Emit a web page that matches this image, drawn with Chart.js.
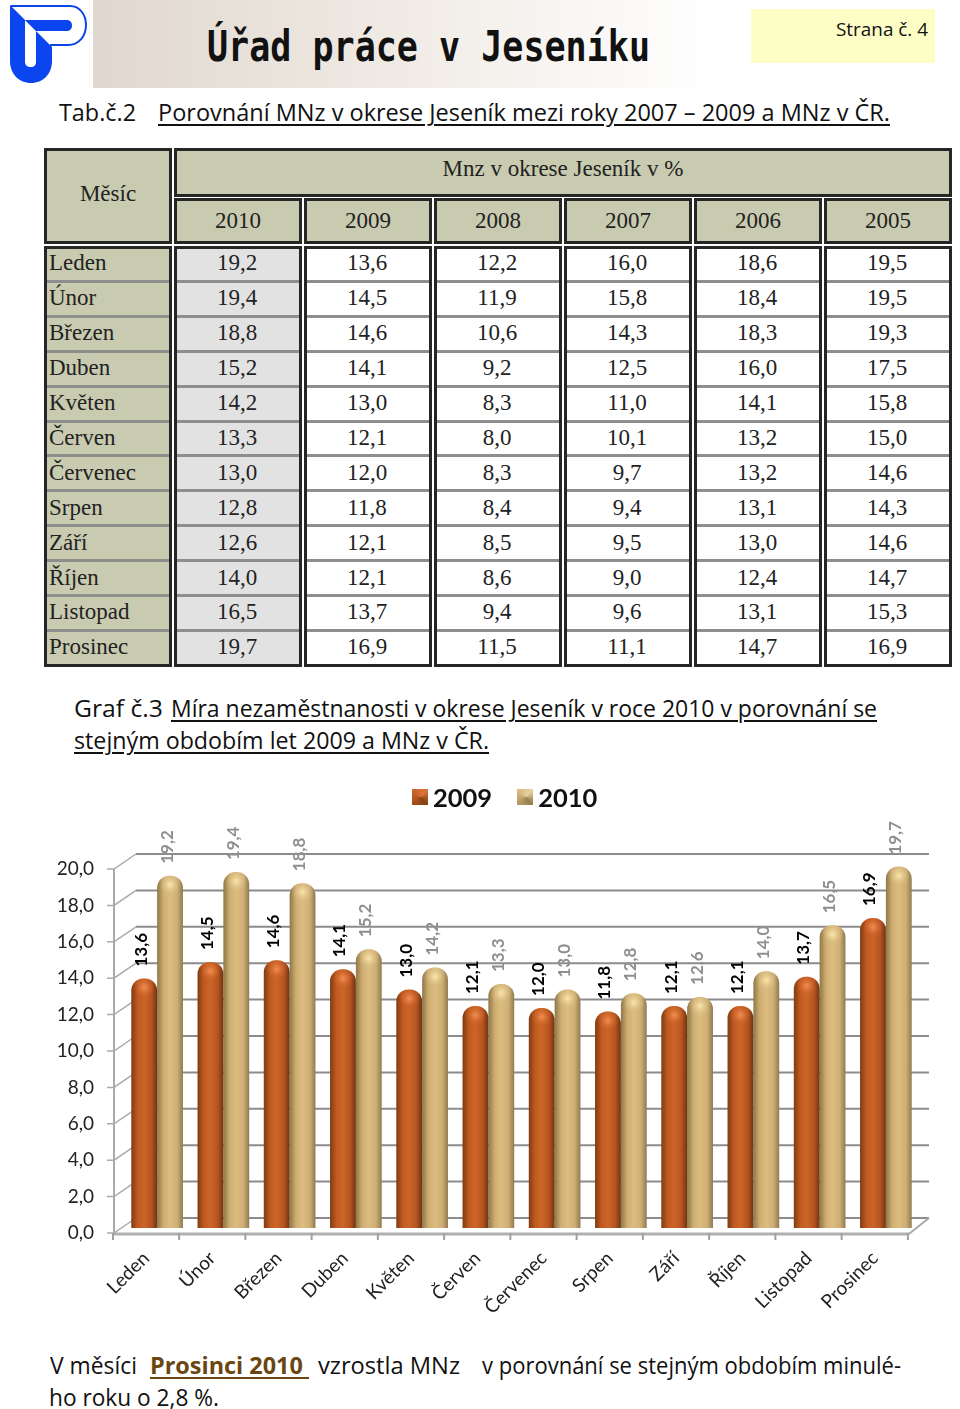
<!DOCTYPE html>
<html lang="cs">
<head>
<meta charset="UTF-8">
<title>Úřad práce v Jeseníku</title>
<script src="https://cdn.jsdelivr.net/npm/chart.js@4.4.4/dist/chart.umd.min.js"></script>
<style>
    html, body { margin: 0; padding: 0; background: #fff; }
    #page { position: relative; width: 960px; height: 1409px; overflow: hidden; font-family: "Open Sans", sans-serif; color: #111; }
    #page > * { position: absolute; }
    #band { left: 93px; top: 0; width: 620px; height: 88px; background: linear-gradient(90deg, #e0d8cf 0%, #efe9e3 45%, #fff 100%); }
    #pagebox { left: 751px; top: 9px; width: 184px; height: 54px; background: #fdfdc6; }
    .t { white-space: nowrap; transform-origin: left center; font-size: 23px; line-height: 30px; }
    .u { text-decoration: underline; text-underline-offset: 3px; }
    .cell { position: absolute; box-sizing: border-box; font-family: "Liberation Serif", serif; font-size: 23px; color: #222; display: flex; align-items: center; justify-content: center; }
    .block { position: absolute; box-sizing: border-box; border: 3px solid #262626; }
    .head { background: #c9cbb0; }
    .sep { position: absolute; height: 3px; background: #8e8e8e; }
    #legend { left: 412px; top: 779px; height: 36px; display: flex; align-items: center; font: bold 25.5px Lato, sans-serif; color: #111; }
    #legend i { display: inline-block; width: 16px; height: 16px; margin-right: 5px; }
    #legend span { margin-right: 25px; }
    #chartbox { left: 0; top: 780px; width: 960px; height: 555px; }
</style>
</head>
<body>
<div id="page">
    <div id="band"></div>
    <svg style="left:0;top:0" width="92" height="88" viewBox="0 0 92 88">
        <path d="M11 6H70C80 6 86 15 86 25C86 36 79 45 68 45H50" fill="#fff" stroke="#0b45e8" stroke-width="2"/>
        <path d="M10 5L52 47V61C52 74 43 83 31 83C19 83 10 74 10 61Z" fill="#0b45f0"/>
        <path d="M25 20L36 31V62C36 65 34 67 31 67C27 67 25 65 25 62Z" fill="#fff"/>
        <path d="M25 20H66C70 20 72 22 72 25.500C72 29 70 31 66 31H36Z" fill="#0b45f0"/>
    </svg>
    <div id="pagebox"></div>
    <div class="t fit" data-w="443" style="left:207px;top:22px;font:bold 42px/50px 'DejaVu Sans Mono',monospace">Úřad práce v Jeseníku</div>
    <div class="t fit" data-w="92" style="left:836px;top:14px;font-size:18px">Strana č. 4</div>
    <div class="t fit" data-w="77" style="left:59px;top:97px">Tab.č.2</div>
    <div class="t fit u" data-w="732" style="left:158px;top:97px">Porovnání MNz v okrese Jeseník mezi roky 2007 – 2009 a MNz v ČR.</div>

    <div id="table" style="left:0;top:0;width:960px;height:680px"></div>

    <div class="t fit" data-w="89" style="left:74px;top:693px">Graf č.3</div>
    <div class="t fit u" data-w="706" style="left:171px;top:693px">Míra nezaměstnanosti v okrese Jeseník v roce 2010 v porovnání se</div>
    <div class="t fit u" data-w="415" style="left:74px;top:725px">stejným obdobím let 2009 a MNz v ČR.</div>

    <div id="chartbox"><canvas id="chart" width="960" height="555"></canvas></div>
    <div id="legend"></div>

    <div class="t fit" data-w="87" style="left:50px;top:1350px">V měsíci</div>
    <div class="t fit u" data-w="159" style="left:150px;top:1350px;font-weight:bold;color:#6a4610;white-space:pre">Prosinci 2010 </div>
    <div class="t fit" data-w="142" style="left:318px;top:1350px">vzrostla MNz</div>
    <div class="t fit" data-w="419" style="left:482px;top:1350px">v porovnání se stejným obdobím minulé-</div>
    <div class="t fit" data-w="170" style="left:49px;top:1382px">ho roku o 2,8 %.</div>
</div>

<script>
    // Data
    const months = ['Leden', 'Únor', 'Březen', 'Duben', 'Květen', 'Červen', 'Červenec', 'Srpen', 'Září', 'Říjen', 'Listopad', 'Prosinec'];
    const tableYears = ['2010', '2009', '2008', '2007', '2006', '2005'];
    const y2010 = [19.2, 19.4, 18.8, 15.2, 14.2, 13.3, 13.0, 12.8, 12.6, 14.0, 16.5, 19.7];
    const y2009 = [13.6, 14.5, 14.6, 14.1, 13.0, 12.1, 12.0, 11.8, 12.1, 12.1, 13.7, 16.9];
    const y2008 = [12.2, 11.9, 10.6, 9.2, 8.3, 8.0, 8.3, 8.4, 8.5, 8.6, 9.4, 11.5];
    const y2007 = [16.0, 15.8, 14.3, 12.5, 11.0, 10.1, 9.7, 9.4, 9.5, 9.0, 9.6, 11.1];
    const y2006 = [18.6, 18.4, 18.3, 16.0, 14.1, 13.2, 13.2, 13.1, 13.0, 12.4, 13.1, 14.7];
    const y2005 = [19.5, 19.5, 19.3, 17.5, 15.8, 15.0, 14.6, 14.3, 14.6, 14.7, 15.3, 16.9];
    const tableColumns = [y2010, y2009, y2008, y2007, y2006, y2005];
    const chartSeries = ['2009', '2010'];

    const comma = v => v.toFixed(1).replace('.', ',');

    // Table
    const table = document.getElementById('table');
    function block(x, y, w, h, cls, text) {
        const d = document.createElement('div');
        d.className = 'block ' + (cls || '');
        d.style.cssText = `left:${x}px;top:${y}px;width:${w}px;height:${h}px`;
        if (text) {
            d.classList.add('cell');
            d.textContent = text;
        }
        table.appendChild(d);
        return d;
    }
    const colX = [174, 304, 434, 564, 694, 824];
    const colW = 128, rowsTop = 246, rowH = 34.9;

    block(44, 148, 128, 96, 'head', 'Měsíc').style.paddingBottom = '4px';
    block(174, 148, 778, 49, 'head', 'Mnz v okrese Jeseník v %').style.paddingBottom = '7px';
    tableYears.forEach((y, i) => block(colX[i], 198, colW, 46, 'head', y));
    block(44, rowsTop, 128, 421, 'head');
    colX.forEach((x, i) => {
        const b = block(x, rowsTop, colW, 421, '');
        if (i === 0) b.style.background = '#e2e2e2';
    });
    months.forEach((m, r) => {
        const top = rowsTop + r * rowH;
        const name = document.createElement('div');
        name.className = 'cell';
        name.textContent = m;
        name.style.cssText = `left:49px;top:${top}px;height:${rowH}px;justify-content:flex-start`;
        table.appendChild(name);
        tableColumns.forEach((col, c) => {
            const d = document.createElement('div');
            d.className = 'cell';
            d.textContent = comma(col[r]);
            d.style.cssText = `left:${colX[c] - 1}px;top:${top}px;width:${colW}px;height:${rowH}px`;
            table.appendChild(d);
        });
        if (r > 0) {
            [[47, 122]].concat(colX.map(x => [x + 3, colW - 6])).forEach(([x, w]) => {
                const s = document.createElement('div');
                s.className = 'sep';
                s.style.cssText = `left:${x}px;top:${top - 1}px;width:${w}px`;
                table.appendChild(s);
            });
        }
    });

    // Squeeze the text lines to the widths they have in the scan
    document.querySelectorAll('.fit').forEach(el => {
        const w = el.getBoundingClientRect().width;
        el.style.transform = `scaleX(${el.dataset.w / w})`;
    });

    // Legend
    const swatches = [
        'conic-gradient(from 45deg, #d9743a, #8a4114 25%, #a5501c 50%, #c9652a 75%, #d9743a)',
        'conic-gradient(from 45deg, #ead09a, #97804f 25%, #b49a66 50%, #d8bb82 75%, #ead09a)'
    ];
    document.getElementById('legend').innerHTML = chartSeries.map((s, i) =>
        `<i style="background:${swatches[i]}"></i><span>${s}</span>`).join('');

    // Cylinder shading
    const barW = 25.9;
    const shades = [
        ['#7d3c12', '#c05a20', '#cc6528', '#b65420', '#6f3510'],
        ['#8e7748', '#cfae72', '#dcbc80', '#cdae74', '#8f7a4e']
    ];
    function cylinder(ctx) {
        const c = ctx.chart;
        const s = shades[ctx.datasetIndex];
        const side = ctx.datasetIndex === 0 ? -1 : 1;
        const mid = c.scales.x.getPixelForValue(ctx.dataIndex) + side * barW / 2;
        // scale has no pixels yet on the first resolve
        if (!Number.isFinite(mid)) return s[1];
        const g = c.ctx.createLinearGradient(mid - barW / 2, 0, mid + barW / 2, 0);
        [0, 0.25, 0.5, 0.78, 1].forEach((p, i) => g.addColorStop(p, s[i]));
        return g;
    }
    const barStyle = {
        yAxisID: 'yBars',
        clip: false,
        backgroundColor: cylinder,
        borderRadius: { topLeft: 12, topRight: 12, bottomLeft: 0, bottomRight: 0 },
        categoryPercentage: 0.78,
        barPercentage: 1
    };

    // Back wall, floor and axis lines of the 3D box
    const wallPlugin = {
        id: 'wall',
        beforeDatasetsDraw(chart) {
            const { ctx, scales: { x, y } } = chart;
            const left = 114, depthX = 22, depthY = 15, wallRight = 929;
            const floorRight = x.getPixelForValue(11) + 33 - 11 + 1;
            ctx.save();
            y.ticks.forEach(t => {
                const py = y.getPixelForValue(t.value);
                ctx.strokeStyle = '#8c8c8c';
                ctx.lineWidth = 2;
                ctx.beginPath();
                ctx.moveTo(left + depthX, py - depthY);
                ctx.lineTo(wallRight, py - depthY);
                ctx.stroke();
                ctx.strokeStyle = '#aaaaaa';
                ctx.lineWidth = 1.5;
                ctx.beginPath();
                ctx.moveTo(left - 7, py);
                ctx.lineTo(left, py);
                ctx.lineTo(left + depthX, py - depthY);
                ctx.stroke();
            });
            const y0 = y.getPixelForValue(0);
            ctx.strokeStyle = '#aaaaaa';
            ctx.lineWidth = 2;
            ctx.beginPath();
            ctx.moveTo(left, y.getPixelForValue(20));
            ctx.lineTo(left, y0 + 1);
            ctx.stroke();
            ctx.beginPath();
            ctx.moveTo(floorRight, y0 + 1);
            ctx.lineTo(wallRight, y0 - depthY);
            ctx.stroke();
            ctx.strokeStyle = '#b0b0b0';
            ctx.lineWidth = 3;
            ctx.beginPath();
            ctx.moveTo(left - 1, y0 + 1);
            ctx.lineTo(floorRight, y0 + 1);
            ctx.stroke();
            ctx.strokeStyle = '#a0a0a0';
            ctx.lineWidth = 2;
            for (let i = 0; i <= months.length; i++) {
                const px = i === 0 ? left - 1 : x.getPixelForValue(i - 1) + 33 - 11;
                ctx.beginPath();
                ctx.moveTo(px, y0);
                ctx.lineTo(px, y0 + 7);
                ctx.stroke();
            }
            ctx.restore();
        }
    };

    // Highlight on the bar tops and rotated value labels
    const topPlugin = {
        id: 'tops',
        afterDatasetsDraw(chart) {
            const { ctx } = chart;
            const glow = ['rgba(240,140,80,0.9)', 'rgba(248,228,170,0.9)'];
            const fade = ['rgba(200,90,32,0)', 'rgba(215,185,125,0)'];
            const labelColor = ['#000', '#8f8f8f'];
            chart.data.datasets.forEach((ds, di) => {
                chart.getDatasetMeta(di).data.forEach((el, i) => {
                    ctx.save();
                    const g = ctx.createRadialGradient(el.x, el.y + 9, 1, el.x, el.y + 9, 11);
                    g.addColorStop(0, glow[di]);
                    g.addColorStop(1, fade[di]);
                    ctx.fillStyle = g;
                    ctx.fillRect(el.x - 12, el.y, 24, 20);
                    ctx.translate(el.x - 3, el.y - 12);
                    ctx.rotate(-Math.PI / 2);
                    ctx.font = 'bold 17px Lato, sans-serif';
                    ctx.fillStyle = labelColor[di];
                    ctx.textAlign = 'left';
                    ctx.textBaseline = 'middle';
                    ctx.fillText(comma(ds.data[i]), 0, 0);
                    ctx.restore();
                });
            });
        }
    };

    new Chart(document.getElementById('chart'), {
        type: 'bar',
        data: {
            labels: months,
            datasets: [
                { label: chartSeries[0], data: y2009, ...barStyle },
                { label: chartSeries[1], data: y2010, ...barStyle }
            ]
        },
        options: {
            responsive: false,
            animation: false,
            layout: { padding: { top: 89, right: 41, left: 0, bottom: 0 } },
            plugins: { legend: { display: false }, title: { display: false }, tooltip: { enabled: false } },
            scales: {
                x: {
                    afterFit: s => { s.height = 102; },
                    grid: { display: false, drawTicks: false },
                    border: { display: false },
                    ticks: {
                        autoSkip: false,
                        minRotation: 45,
                        maxRotation: 45,
                        padding: 14,
                        labelOffset: -11,
                        color: '#222',
                        font: { family: 'Lato, sans-serif', size: 19 }
                    }
                },
                y: {
                    min: 0,
                    max: 20,
                    afterFit: s => { s.width = 124; },
                    grid: { display: false, drawTicks: false },
                    border: { display: false },
                    ticks: {
                        stepSize: 2,
                        padding: 30,
                        color: '#222',
                        callback: v => comma(v),
                        font: { family: 'Lato, sans-serif', size: 19 }
                    }
                },
                // bars stand a little behind the front axis line
                yBars: { display: false, min: -0.27, max: 19.57 }
            }
        },
        plugins: [wallPlugin, topPlugin]
    });
</script>
</body>
</html>
